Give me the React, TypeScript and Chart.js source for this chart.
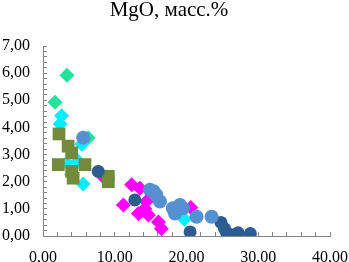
import React, { useEffect, useRef } from "react";
import { Chart, registerables } from "chart.js";

Chart.register(...registerables);

const titleText = "MgO, масс.%";
const xTickLabels = ["0,00", "10,00", "20,00", "30,00", "40,00"];

const lightBluePts = [
  [5.6, 3.62], [14.9, 1.7], [15.4, 1.65], [15.8, 1.51], [16.3, 1.27],
  [18.1, 1.02], [18.4, 0.83], [19.1, 1.14], [19.5, 1.02], [21.4, 0.71], [23.5, 0.71],
];
const darkBluePts = [
  [7.7, 2.38], [12.8, 1.33], [20.5, 0.15], [24.8, 0.5], [25.3, 0.27],
  [25.6, 0.12], [26.2, 0.05], [27.2, 0.12], [28.9, 0.09],
];
const olivePts = [
  [2.23, 3.76], [3.5, 3.31], [4.0, 3.06], [2.13, 2.63], [5.85, 2.63],
  [4.0, 2.38], [4.2, 2.13], [9.1, 2.2], [9.1, 2.0],
];
const magentaPts = [
  [8.6, 2.13], [12.35, 1.89], [13.5, 1.76], [11.2, 1.14], [14.4, 1.27],
  [14.2, 1.0], [13.3, 0.83], [14.7, 0.77], [16.1, 0.52], [16.5, 0.27], [20.6, 1.05],
];
const cyanPts = [
  [2.6, 4.43], [2.37, 4.13], [5.4, 3.38], [3.3, 2.69], [4.9, 2.75], [5.6, 1.92], [19.7, 0.62],
];
const greenPts = [
  [1.67, 4.93], [3.34, 5.92], [6.3, 3.62], [4.0, 2.26],
];

const toXY = (arr: number[][]) => arr.map(([x, y]) => ({ x, y }));

const fmt = (v: number) => v.toFixed(2).replace(".", ",");

export default function App() {
  const ref = useRef<HTMLCanvasElement | null>(null);
  useEffect(() => {
    if (!ref.current) return;
    const titlePlugin = {
      id: "customTitle",
      afterDraw(chart: any) {
        const ctx = chart.ctx;
        ctx.save();
        ctx.font = "21px 'Liberation Serif'";
        ctx.fillStyle = "#000";
        ctx.textAlign = "center";
        ctx.textBaseline = "alphabetic";
        ctx.fillText(titleText, 169, 16);
        ctx.restore();
      },
    };
    const ds = (label: string, data: number[][], color: string, style: string, radius: number) => ({
      label,
      data: toXY(data),
      backgroundColor: color,
      borderColor: color,
      borderWidth: 0,
      pointStyle: style,
      pointRadius: radius,
      pointHoverRadius: radius,
      showLine: false,
    });
    const chart = new Chart(ref.current, {
      type: "scatter",
      data: {
        datasets: [
          ds("s1", lightBluePts, "#5590D0", "circle", 7),
          ds("s2", darkBluePts, "#2D5C90", "circle", 6.5),
          ds("s3", olivePts, "#728A3A", "rect", 9),
          ds("s4", magentaPts, "#FF00FF", "rectRot", 7.5),
          ds("s5", cyanPts, "#00F0FF", "rectRot", 7.5),
          ds("s6", greenPts, "#22E39C", "rectRot", 7.5),
        ] as any,
      },
      options: {
        animation: false,
        responsive: false,
        devicePixelRatio: 1,
        layout: { padding: { top: 46, right: 19, left: 0, bottom: 0 } },
        plugins: { legend: { display: false }, tooltip: { enabled: false }, title: { display: false } },
        scales: {
          x: {
            type: "linear",
            min: 0,
            max: 40,
            afterFit: (s: any) => {
              s.height = 26;
              s.paddingLeft = 0;
              s.paddingRight = 0;
              s.paddingTop = 0;
              s.paddingBottom = 0;
            },
            afterBuildTicks: (s: any) => {
              const t = [];
              for (let v = 0; v <= 40; v += 2) t.push({ value: v });
              s.ticks = t;
            },
            ticks: {
              autoSkip: false,
              maxRotation: 0,
              padding: 16,
              color: "#000",
              font: { family: "'Liberation Serif'", size: 16 },
              callback: (v: any) => (v % 10 === 0 ? xTickLabels[v / 10] : ""),
            },
            grid: { drawOnChartArea: false, tickLength: -4, color: "#868686", drawTicks: true },
            border: { color: "#868686", width: 1 },
          },
          y: {
            type: "linear",
            min: 0,
            max: 7,
            afterFit: (s: any) => {
              s.width = 43;
              s.paddingLeft = 0;
              s.paddingRight = 0;
              s.paddingTop = 0;
              s.paddingBottom = 0;
            },
            afterBuildTicks: (s: any) => {
              const t = [];
              for (let i = 0; i <= 35; i++) t.push({ value: i / 5 });
              s.ticks = t;
            },
            ticks: {
              autoSkip: false,
              padding: 17,
              color: "#000",
              font: { family: "'Liberation Serif'", size: 16 },
              callback: (v: any) => (Math.abs(v - Math.round(v)) < 1e-6 ? fmt(Math.round(v)) : ""),
            },
            grid: { drawOnChartArea: false, tickLength: -4, color: "#868686", drawTicks: true },
            border: { color: "#868686", width: 1 },
          },
        },
      } as any,
      plugins: [titlePlugin],
    });
    return () => chart.destroy();
  }, []);
  return (
    <div style={{ position: "absolute", left: 0, top: 0, width: 349, height: 262, background: "#fff" }}>
      <canvas ref={ref} width={349} height={262} style={{ width: 349, height: 262 }} />
    </div>
  );
}
